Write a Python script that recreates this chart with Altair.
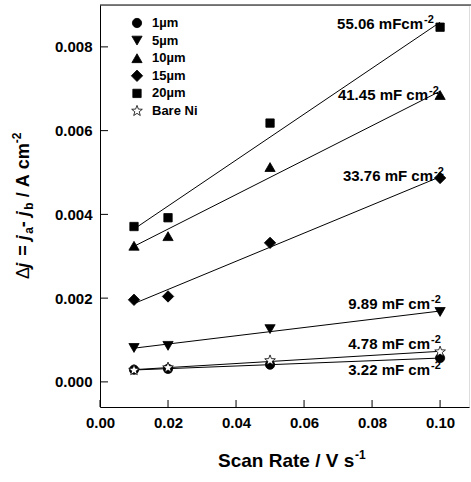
import altair as alt
import pandas as pd
import math

# ---------------- data ----------------
scan_rate = [0.01, 0.02, 0.05, 0.10]
series = ["1µm", "5µm", "10µm", "15µm", "20µm", "Bare Ni"]
j_1um = [0.29e-3, 0.31e-3, 0.41e-3, 0.57e-3]
j_5um = [0.81e-3, 0.86e-3, 1.26e-3, 1.67e-3]
j_10um = [3.25e-3, 3.48e-3, 5.13e-3, 6.85e-3]
j_15um = [1.96e-3, 2.04e-3, 3.32e-3, 4.87e-3]
j_20um = [3.71e-3, 3.92e-3, 6.18e-3, 8.47e-3]
j_bare = [0.28e-3, 0.34e-3, 0.51e-3, 0.72e-3]

cdl_text = ["55.06 mFcm", "41.45 mF cm", "33.76 mF cm", "9.89 mF cm", "4.78 mF cm", "3.22 mF cm"]
cdl_sup = ["-2", "-2", "-2", "-2", "-2", "-2"]

x_ticks = [0.00, 0.02, 0.04, 0.06, 0.08, 0.10]
y_ticks = [0.000, 0.002, 0.004, 0.006, 0.008]

# ---------------- layout ----------------
W, H = 369, 402
FONT = "Liberation Sans"
NB = "\u00a0"
ann_x = [323, 328, 333, 330, 330, 330]
ann_y = [24, 95, 176, 304, 344, 370]
sym_sizes = {"1µm": 86, "5µm": 105, "10µm": 105, "15µm": 130, "20µm": 70, "Bare Ni": 125}
size_expr = "(" + "{" + ",".join(f"'{k}':{v}" for k, v in sym_sizes.items()) + "})[datum.series]"

all_vals = [j_1um, j_5um, j_10um, j_15um, j_20um, j_bare]
rows = []
for s, vals in zip(series, all_vals):
    for r, v in zip(scan_rate, vals):
        rows.append({"series": s, "rate": r, "j": v})
df = pd.DataFrame(rows)

x_scale = alt.Scale(domain=[0, 0.1085], nice=False, zero=False)
y_scale = alt.Scale(domain=[-0.0006, 0.009], nice=False, zero=False)

axis_common = dict(
    labelFont=FONT, labelFontWeight="bold", labelFontSize=15, labelColor="black",
    ticks=False, tickSize=0, domainColor="black", domainWidth=1, grid=False,
    title=None, labelPadding=8, labelFlush=False,
)
x_axis = alt.Axis(values=x_ticks, format=".2f", **axis_common)
y_axis = alt.Axis(values=y_ticks, format=".3f", **axis_common)

pts = []
for k in range(10):
    a = math.radians(-90 + 36 * k)
    r = 1.0 if k % 2 == 0 else 0.42
    pts.append(f"{r*math.cos(a):.3f},{r*math.sin(a):.3f}")
star = "M" + " L".join(pts) + " Z"

shape_scale = alt.Scale(domain=series, range=["circle", "triangle-down", "triangle-up", "diamond", "square", star])
fill_scale = alt.Scale(domain=series, range=["black"] * 5 + ["white"])

base = alt.Chart(df)

lines = base.transform_regression("rate", "j", groupby=["series"]).mark_line(
    color="black", strokeWidth=1
).encode(
    x=alt.X("rate:Q", scale=x_scale, axis=x_axis),
    y=alt.Y("j:Q", scale=y_scale, axis=y_axis),
    detail="series:N",
)

points = base.transform_calculate(sz=size_expr).mark_point(
    filled=True, stroke="black", strokeWidth=0.8, opacity=1, fillOpacity=1
).encode(
    x=alt.X("rate:Q", scale=x_scale),
    y=alt.Y("j:Q", scale=y_scale),
    shape=alt.Shape("series:N", scale=shape_scale, legend=None),
    fill=alt.Fill("series:N", scale=fill_scale, legend=None),
    size=alt.Size("sz:Q", scale=None),
)

xt = alt.Chart(pd.DataFrame({"t": x_ticks})).mark_rule(color="black", strokeWidth=1).encode(
    x=alt.X("t:Q", scale=x_scale), y=alt.value(H), y2=alt.value(H - 7)
)
yt = alt.Chart(pd.DataFrame({"t": y_ticks})).mark_rule(color="black", strokeWidth=1).encode(
    y=alt.Y("t:Q", scale=y_scale), x=alt.value(0), x2=alt.value(8)
)
top = alt.Chart(pd.DataFrame({"a": [0]})).mark_rule(color="black", strokeWidth=1).encode(
    x=alt.value(0), x2=alt.value(W + 2), y=alt.value(0)
)

leg = pd.DataFrame({"series": series, "row": list(range(len(series)))})
leg_base = alt.Chart(leg).transform_calculate(ly="18 + 17.6 * datum.row", sz=size_expr)
leg_pts = leg_base.mark_point(filled=True, stroke="black", strokeWidth=0.8, opacity=1, fillOpacity=1).encode(
    x=alt.value(37),
    y=alt.Y("ly:Q", scale=None),
    shape=alt.Shape("series:N", scale=shape_scale, legend=None),
    fill=alt.Fill("series:N", scale=fill_scale, legend=None),
    size=alt.Size("sz:Q", scale=None),
)
leg_txt = leg_base.mark_text(font=FONT, fontWeight="bold", fontSize=13, align="left", baseline="middle", color="black").encode(
    x=alt.value(52), y=alt.Y("ly:Q", scale=None), text="series:N"
)

ann = pd.DataFrame({"t": cdl_text, "s": cdl_sup, "px": ann_x, "py": ann_y})
ann_main = alt.Chart(ann).mark_text(font=FONT, fontWeight="bold", fontSize=15, align="right", baseline="alphabetic", color="black").encode(
    x=alt.X("px:Q", scale=None), y=alt.Y("py:Q", scale=None), text="t:N"
)
ann_sup = alt.Chart(ann).transform_calculate(sx="datum.px + 1", sy="datum.py - 6").mark_text(
    font=FONT, fontWeight="bold", fontSize=11, align="left", baseline="alphabetic", color="black"
).encode(x=alt.X("sx:Q", scale=None), y=alt.Y("sy:Q", scale=None), text="s:N")

xt_main = alt.Chart(pd.DataFrame({"t": ["Scan Rate / V s"]})).mark_text(
    font=FONT, fontWeight="bold", fontSize=19, align="left", baseline="alphabetic", color="black"
).encode(x=alt.value(118), y=alt.value(462), text="t:N")
xt_sup = alt.Chart(pd.DataFrame({"t": ["-1"]})).mark_text(
    font=FONT, fontWeight="bold", fontSize=12, align="left", baseline="alphabetic", color="black"
).encode(x=alt.value(255), y=alt.value(454), text="t:N")

# y title pieces (rotated); (text, size, kind, dx, gap-after)
wtab = {"Δ": 0.62, "j": 0.278, " ": 0.278, NB: 0.278, "=": 0.584, "a": 0.556, "-": 0.333, "b": 0.611,
        "/": 0.278, "A": 0.722, "c": 0.556, "m": 0.889, "2": 0.556}
FS, FSS = 18, 12
pieces = [("Δ", FS, "d", 0, 0), ("j", FS, "i", 0, 7), ("=", FS, "b", 0, 5), ("j", FS, "i", 0, 1.5),
          ("a", FSS, "s", 4, 0), ("-", FS, "b", 0, 5), ("j", FS, "i", 0, 1.5), ("b", FSS, "s", 4, 5),
          ("/" + NB + "A" + NB + "cm", FS, "b", 0, 0), ("-2", FSS, "s", -8, 0)]
pos_y = 274.0
bx = -71
recs = []
for txt, fs, kind, dx, gap in pieces:
    recs.append({"t": txt, "kind": kind, "px": bx + dx, "py": pos_y})
    pos_y -= sum(wtab[c] for c in txt) * fs + gap
ydf = pd.DataFrame(recs)


def ytitle(kind, size, weight, style, font=FONT):
    return alt.Chart(ydf).transform_filter(alt.datum.kind == kind).mark_text(
        font=font, fontWeight=weight, fontStyle=style, fontSize=size, angle=270,
        align="left", baseline="alphabetic", color="black"
    ).encode(x=alt.X("px:Q", scale=None), y=alt.Y("py:Q", scale=None), text="t:N")


yt_d = ytitle("d", FS, "normal", "normal")
yt_i = ytitle("i", FS, "bold", "italic")
yt_b = ytitle("b", FS, "bold", "normal")
yt_s = ytitle("s", FSS, "bold", "normal")

chart = alt.layer(
    lines, xt, yt, top, points, leg_pts, leg_txt, ann_main, ann_sup,
    xt_main, xt_sup, yt_d, yt_i, yt_b, yt_s
).properties(
    width=W, height=H,
    autosize=alt.AutoSizeParams(type="none"),
    padding={"left": 100, "top": 5, "right": 2, "bottom": 75},
).configure_view(stroke=None).configure(background="white")

chart.save("out.html", embed_options={"renderer": "svg", "actions": False})
